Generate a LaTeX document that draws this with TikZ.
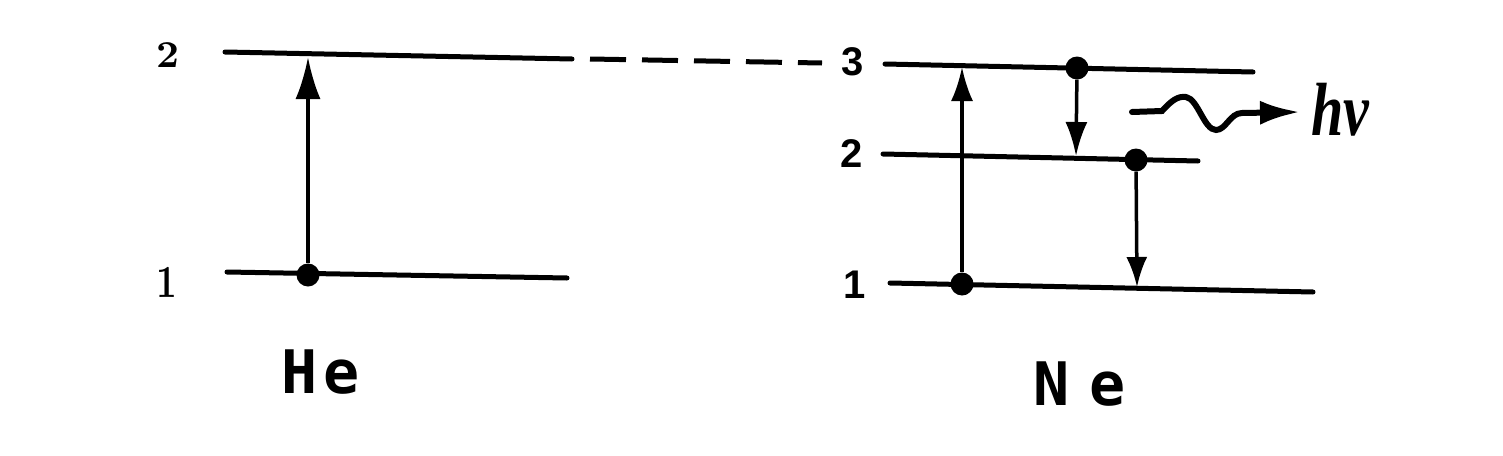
\documentclass[tikz,border=0pt]{standalone}
\usepackage{fontspec}
\usepackage{graphicx}
\usetikzlibrary{arrows.meta}
\newfontfamily\labsans{Liberation Sans}
\newfontfamily\elemfont{DejaVu Sans Mono}
\newfontfamily\nufont{Liberation Serif}
\tikzset{
  level/.style={line width=5pt, line cap=round},
  shaft/.style={line width=3.5pt, -{Latex[length=34pt,width=22pt]}},
  dot/.style={circle, fill=black, inner sep=0pt, minimum size=23pt},
  hedigit/.style={anchor=base, inner sep=0pt, font=\bfseries},
  nedigit/.style={anchor=base, inner sep=0pt, font=\fontsize{40}{40}\selectfont\labsans\bfseries},
  elem/.style={anchor=base west, inner sep=0pt, font=\fontsize{60}{60}\selectfont\elemfont\bfseries},
}
\begin{document}
\begin{tikzpicture}[x=1pt,y=-1pt]
\useasboundingbox[fill=white] (0,0) rectangle (1503,455);

% ---------- He ----------
\coordinate (he2l) at (225,52);
\coordinate (he2r) at (572,59);
\coordinate (he1l) at (227,272);
\coordinate (he1r) at (567,278);
\draw[level] (he2l) -- (he2r);
\draw[level] (he1l) -- (he1r);
\node[hedigit] (lhe2) at (168,67) {\scalebox{4}[3.8]{2}};
\node[hedigit] (lhe1) at (167,297) {\scalebox{3.6}[4.6]{1}};
\node[dot] (hed) at (308,275) {};
\coordinate (hetip) at (308,57);
\draw[line width=3.5pt, -{Latex[length=42pt,width=25pt]}] (hed) -- (hetip);
\node[elem] (he) at (281,393) {H\hspace{6pt}e};

% ---------- dashed link ----------
\coordinate (dsa) at (590,59);
\coordinate (dsb) at (822,63);
\draw[line width=5pt, dash pattern=on 36pt off 16pt] (dsa) -- (dsb);

% ---------- Ne ----------
\coordinate (ne3l) at (885,64);
\coordinate (ne3r) at (1253,72);
\coordinate (ne2l) at (883,154);
\coordinate (ne2r) at (1198,161);
\coordinate (ne1l) at (890,283);
\coordinate (ne1r) at (1313,292);
\draw[level] (ne3l) -- (ne3r);
\draw[level] (ne2l) -- (ne2r);
\draw[level] (ne1l) -- (ne1r);
\node[nedigit] (lne3) at (853,75) {3};
\node[nedigit] (lne2) at (852,167) {2};
\node[nedigit] (lne1) at (855,298) {1};

\node[dot] (ned1) at (962,284) {};
\node[dot] (ned3) at (1077,68) {};
\node[dot] (ned2) at (1136,160) {};
\coordinate (netip3) at (962,67);
\coordinate (netip2) at (1076,156);
\coordinate (netip1) at (1137,287);
\draw[shaft] (ned1) -- (netip3);
\draw[shaft] (ned3) -- (netip2);
\draw[shaft, -{Latex[length=30pt,width=21pt]}] (ned2) -- (netip1);

% ---------- photon ----------
\coordinate (wa) at (1132,112);
\coordinate (wtip) at (1300,112);
\draw[line width=6pt, line cap=round, -{Latex[length=40pt,width=24pt]}]
  (wa) -- (1162,111)
  .. controls (1172,100) and (1178,96) .. (1186,97)
  .. controls (1198,99) and (1204,130) .. (1216,130)
  .. controls (1226,130) and (1230,113) .. (1242,113)
  -- (wtip);
\node[anchor=base west, inner sep=0pt] (hnu) at (1311,135)
  {\scalebox{1}[1.3]{\fontsize{58}{58}\selectfont\nufont\bfseries\itshape hν}};
\node[elem] (ne) at (1033,405) {N\hspace{20pt}e};
\end{tikzpicture}
\end{document}
